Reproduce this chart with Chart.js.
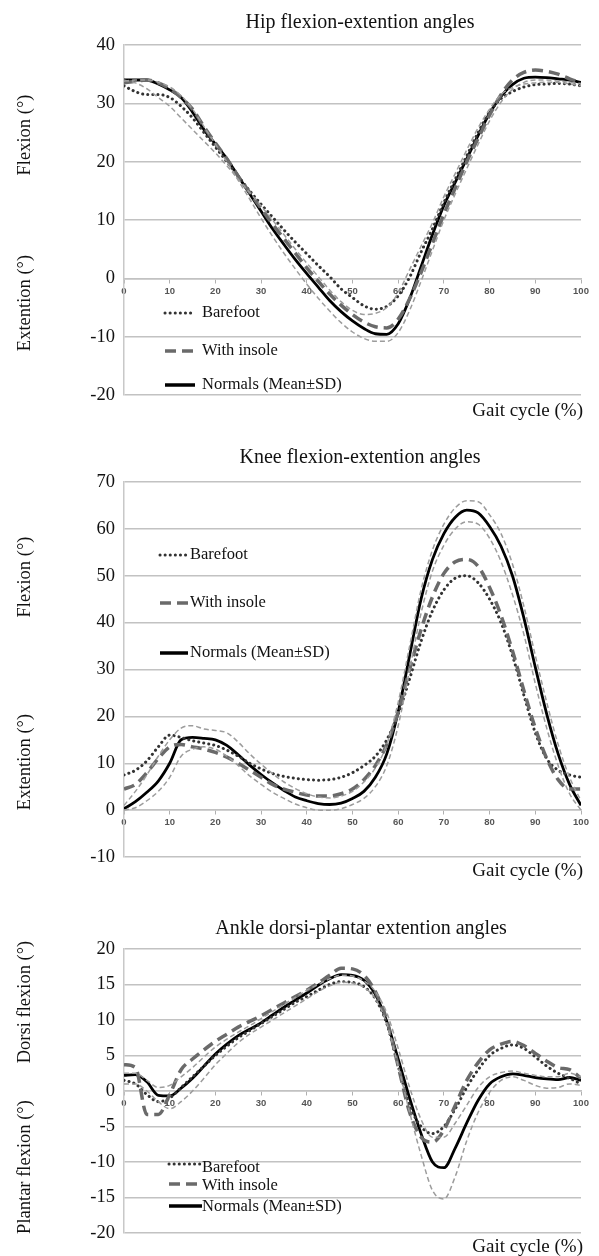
<!DOCTYPE html>
<html><head><meta charset="utf-8">
<script src="https://cdn.jsdelivr.net/npm/chart.js@4.4.0/dist/chart.umd.min.js"></script>
<style>
html,body{margin:0;padding:0;background:#fff;}
body{width:599px;height:1256px;position:relative;overflow:hidden;}
.wrap{position:absolute;left:0;width:599px;}
canvas{display:block;}
</style></head><body>
<div class="wrap" style="top:0;height:425px"><canvas id="hip"></canvas></div>
<div class="wrap" style="top:425px;height:460px"><canvas id="knee"></canvas></div>
<div class="wrap" style="top:885px;height:371px"><canvas id="ankle"></canvas></div>
<script>
// ---- data ----
const gait = [0,2.5,5,7.5,10,12.5,15,17.5,20,22.5,25,27.5,30,32.5,35,37.5,40,42.5,45,47.5,50,52.5,55,57.5,60,62.5,65,67.5,70,72.5,75,77.5,80,82.5,85,87.5,90,92.5,95,97.5,100];
const xTicks = [0,10,20,30,40,50,60,70,80,90,100];

const hipBarefoot = [33,32,31.5,31.5,31,29.5,27.5,25,22.5,20,17.5,15,12.7,10.5,8.3,6.2,4.2,2.2,0.3,-1.8,-3.3,-4.7,-5.3,-4.8,-3,0.2,4.5,8.5,13,17,21,25,28.5,30.8,32,32.8,33.2,33.3,33.4,33.3,33];
const hipInsole   = [33.5,33.8,34,33.5,32.5,31,29,26,23.2,20.5,17.5,14.7,12,9.3,6.8,4.3,1.8,-0.5,-2.7,-4.6,-6.2,-7.5,-8.3,-8.5,-7,-3.5,1,6,11,15.5,20,24,28,31.5,34,35.3,35.7,35.5,35,34.2,33.5];
const hipNormMean = [34,34,34,33.3,32.3,31,28.5,25.5,23,20.5,17.5,14.5,11.5,8.5,5.8,3.2,0.8,-1.5,-3.8,-5.7,-7.3,-8.6,-9.5,-9.6,-7.8,-3.5,2,7.5,12.5,16.5,20.5,24.5,28.3,31.2,33.2,34.3,34.5,34.4,34.2,34,33.6];
const hipNormSd1  = [34,33.5,32.5,31,29.5,27.5,25.5,23.5,21.5,19.3,17,14.7,12.4,10,7.5,5,2.6,0.3,-2,-4,-5.5,-6.2,-6,-5,-2.5,1.5,5.5,9.5,14,18,22,25.8,29,31.5,32.7,33.3,33.5,33.6,33.6,33.3,33];
const hipNormSd2  = [33.8,34,34,33.6,32.8,31.3,29,26,23,20,16.8,13.6,10.3,7.2,4.3,1.6,-1,-3.4,-5.6,-7.6,-9.2,-10.3,-10.8,-10.8,-9.3,-5.5,-0.5,4.8,10,14.5,18.8,23,27,30.2,32.4,33.6,34,34,33.8,33.6,33.4];

const kneeBarefoot = [7.5,8.5,10.5,13.5,16,15.5,14.8,14.3,13.8,12.8,11.5,10,8.8,7.8,7.2,6.8,6.5,6.4,6.5,7,8,9.5,11.5,15,20.5,28,36,42.5,47,49.5,50,48.5,45,40,33,24.5,16.5,11,8.5,7.5,7];
const kneeInsole   = [4.5,5.5,8,11,13.5,14,13.5,13,12.3,11.3,10,8.5,7,5.5,4.5,3.8,3.2,3,3,3.5,4.5,6.5,9.5,14,21,30,38.5,45.5,50.5,53,53.5,52,47.5,41.5,34,25.5,17.5,11,6.5,4.5,4.5];
const kneeNormMean = [0.3,1.8,3.8,6.2,10,15,15.5,15.3,15,13.8,11.8,9.6,7.6,5.8,4.2,2.8,2,1.4,1.2,1.5,2.5,4,7,12,21,33,45,53.5,59,62.5,64,63.4,60.5,56.3,50,41,30.5,20.5,12,5.5,1];
const kneeNormSd1  = [1,4,7.5,11.5,15,17.5,18,17.3,17,16.5,14.5,12,9.8,7.8,6,4.6,3.5,2.8,2.6,3,4,6,9,14,23,35,47,55.5,61,64.5,66,65.8,63,59,52.5,43.5,33,23,14,7,2];
const kneeNormSd2  = [0,0.5,2,4,7,11.5,13,13.5,13,11.5,9.5,7.3,5.5,3.8,2.5,1.3,0.5,0,0,0.3,1.2,2.5,5,9.5,18,30,42,51,56.5,60,61.5,61,58,53,46,37.5,27,17.5,9.5,3.5,0];

const ankleBarefoot = [1.5,1,-0.5,-1.5,-1,0.5,2,3.5,5,6.3,7.5,8.5,9.5,10.5,11.5,12.5,13.3,14.2,15,15.4,15.3,14.7,13,9.5,3.5,-2,-5,-6,-5,-2.5,0.5,3,5,6,6.5,6,4.8,3.5,2.5,1.8,1];
const ankleInsole   = [3.7,3.3,-3.3,-3.3,-0.5,3,4.5,5.8,7,8,9,9.8,10.6,11.5,12.4,13.3,14.2,15.2,16.3,17.3,17.2,16.3,14,10,3.5,-3,-6.5,-7.2,-5.5,-2,1.5,4,5.8,6.6,7,6.4,5.3,4.2,3.3,3,1.8];
const ankleNormMean = [2.2,2.3,1.3,-0.6,-0.7,0.4,1.8,3.5,5.2,6.6,7.8,8.7,9.6,10.7,11.8,12.8,13.8,14.9,15.8,16.4,16.3,15.6,13.6,9.8,4.5,-1,-6,-10,-10.8,-8,-4.5,-1.3,1,2,2.4,2.2,1.9,1.7,1.6,1.9,1.5];
const ankleNormSd1  = [2.5,2.5,1.5,0.5,0.8,2,3.3,4.8,6.2,7.3,8.3,9.2,10.2,11.2,12.2,13.2,14.2,15,15.8,16.3,16.2,15.5,14,11,6,0.5,-4,-6.5,-6.5,-4.5,-2,0.5,2,2.6,2.8,2.5,2.2,2,2,2.5,2];
const ankleNormSd2  = [1,1,0,-1.5,-2.5,-1.5,0,1.8,3.7,5.3,6.8,8,9,10,11,12,13,14,14.8,15.3,15.2,14.6,13,9.5,3.5,-3,-9,-14,-15.2,-12,-7,-3,-0.2,1.5,2,1.5,0.8,0.4,0.5,1,0.8];

const legendLabels = ['Barefoot','With insole','Normals (Mean\u00b1SD)'];

// ---- styles ----
const SERIF = '"Liberation Serif", "Times New Roman", serif';
const STYLE = {
  barefoot:{color:'#333333', width:3, dash:[0.1,5], cap:'round'},
  insole:{color:'#6a6a6a', width:3.5, dash:[11,6], cap:'butt'},
  mean:{color:'#000000', width:2.8, dash:[], cap:'butt'},
  sd:{color:'#9c9c9c', width:1.5, dash:[5,3], cap:'butt'}
};

function ds(label, arr, st){
  return {label, data: gait.map((x,i)=>({x, y:arr[i]})), borderColor:st.color, borderWidth:st.width,
    borderDash:st.dash, borderCapStyle:st.cap, pointRadius:0, fill:false, cubicInterpolationMode:'monotone'};
}

function textPlugin(t){
  return {id:'txt', afterDraw(chart){
    const c = chart.ctx; c.save();
    c.fillStyle = '#111'; c.textBaseline = 'middle';
    c.font = '20px ' + SERIF; c.textAlign = 'center';
    c.fillText(t.title, t.titleX, t.titleY);
    c.font = '19px ' + SERIF; c.textAlign = 'right';
    c.fillText('Gait cycle (%)', 583, t.gaitY);
    c.font = '18.5px ' + SERIF;
    for (const s of t.side){ c.save(); c.translate(25, s.y); c.rotate(-Math.PI/2); c.textAlign='center'; c.fillText(s.text,0,0); c.restore(); }
    const sts = [STYLE.barefoot, STYLE.insole, STYLE.mean];
    c.font = '16.5px ' + SERIF; c.textAlign = 'left';
    t.leg.ys.forEach((y,i)=>{
      const st = sts[i];
      c.save(); c.strokeStyle = st.color; c.lineWidth = st.width + (i===2?0.7:0); c.setLineDash(st.dash); c.lineCap = st.cap;
      c.beginPath(); c.moveTo(t.leg.x1, y); c.lineTo(t.leg.x2, y); c.stroke(); c.restore();
      c.fillStyle = '#111'; c.fillText(legendLabels[i], t.leg.tx, y + (t.leg.dy ? t.leg.dy[i] : 0));
    });
    c.restore();
  }};
}

function makeChart(id, series, yMin, yMax, yStep, pad, txt){
  new Chart(document.getElementById(id), {
    type:'line',
    data:{datasets:[
      ds('Normals +SD', series[3], STYLE.sd),
      ds('Normals -SD', series[4], STYLE.sd),
      ds('With insole', series[1], STYLE.insole),
      ds('Barefoot', series[0], STYLE.barefoot),
      ds('Normals (Mean\u00b1SD)', series[2], STYLE.mean)
    ]},
    options:{
      responsive:true, maintainAspectRatio:false, animation:false,
      layout:{padding:{top:pad.top, bottom:pad.bottom, left:0, right:18}},
      plugins:{legend:{display:false}, tooltip:{enabled:false}, title:{display:false}},
      scales:{
        x:{type:'linear', position:{y:0}, min:0, max:100,
           afterBuildTicks(s){ s.ticks = xTicks.map(v=>({value:v})); },
           grid:{drawOnChartArea:false, drawTicks:true, tickLength:4, color:'#b0b0b0', lineWidth:1},
           border:{display:true, color:'#c2c2c2', width:1.5},
           ticks:{padding:3, color:'#555', font:{family:'"Liberation Sans", Arial, sans-serif', size:9.5, weight:'bold'}, maxRotation:0, autoSkip:false}},
        y:{min:yMin, max:yMax,
           afterFit(s){ s.width = 124; },
           ticks:{stepSize:yStep, padding:9, color:'#111', font:{family:SERIF, size:18.5}},
           grid:{color:'#c2c2c2', lineWidth:1.5, drawTicks:false},
           border:{display:true, color:'#c8c8c8', width:1.5}}
      }
    },
    plugins:[textPlugin(txt)]
  });
}

makeChart('hip', [hipBarefoot, hipInsole, hipNormMean, hipNormSd1, hipNormSd2], -20, 40, 10,
  {top:45, bottom:30},
  {title:'Hip flexion-extention angles', titleX:360, titleY:23, gaitY:411,
   side:[{text:'Flexion (\u00b0)', y:135},{text:'Extention (\u00b0)', y:303}],
   leg:{x1:165, x2:195, tx:202, ys:[313,351,385]}});

makeChart('knee', [kneeBarefoot, kneeInsole, kneeNormMean, kneeNormSd1, kneeNormSd2], -10, 70, 10,
  {top:57, bottom:28},
  {title:'Knee flexion-extention angles', titleX:360, titleY:33, gaitY:446,
   side:[{text:'Flexion (\u00b0)', y:152},{text:'Extention (\u00b0)', y:337}],
   leg:{x1:160, x2:188, tx:190, ys:[130,178,228]}});

makeChart('ankle', [ankleBarefoot, ankleInsole, ankleNormMean, ankleNormSd1, ankleNormSd2], -20, 20, 5,
  {top:64, bottom:23},
  {title:'Ankle dorsi-plantar extention angles', titleX:361, titleY:44, gaitY:362,
   side:[{text:'Dorsi flexion (\u00b0)', y:117},{text:'Plantar flexion (\u00b0)', y:282}],
   leg:{x1:169, x2:202, tx:202, ys:[279,299,321], dy:[4,2,1]}});
</script>
</body></html>
